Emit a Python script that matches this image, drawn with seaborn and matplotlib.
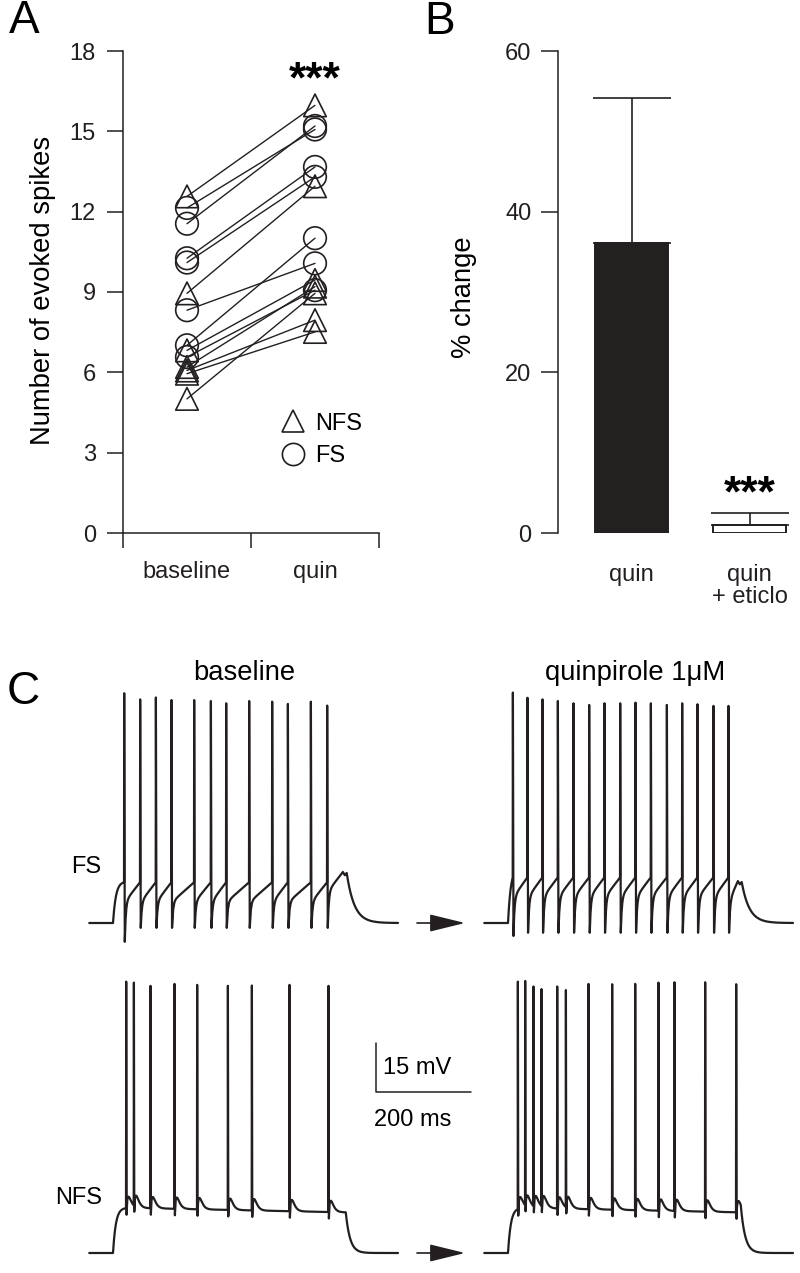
import numpy as np
import pandas as pd
import matplotlib
matplotlib.use('Agg')
import matplotlib.pyplot as plt
from matplotlib.lines import Line2D
import seaborn as sns

# panel A: evoked spikes per cell (first 7 NFS, last 7 FS)
cell_type = ['NFS'] * 7 + ['FS'] * 7
spikes_baseline = [12.57, 8.95, 6.82, 6.2, 6.07, 5.95, 5.01,
                   12.14, 11.55, 10.26, 10.1, 8.32, 7.01, 6.57]
spikes_quin = [15.97, 12.95, 9.45, 9.2, 7.95, 7.51, 8.95,
               15.07, 15.2, 13.67, 13.3, 10.07, 11.01, 9.07]
conditions = ['baseline', 'quin']

# panel B: % change in evoked spikes
bar_labels = ['quin', 'quin\n+ eticlo']
pct_change = [36.1, 1.0]
pct_sem = [18.1, 1.5]

# panel C: spike times (ms after step onset) and peaks (mV above rest)
fs_base_t = [23.2, 56.8, 89.9, 122.7, 170.5, 205.7, 237.9, 286.3, 334.7, 367.8, 416.2, 450.5]
fs_base_pk = [70.7, 68.8, 69.4, 68.6, 68.6, 68.3, 67.6, 68.3, 68.1, 67.4, 68.1, 66.9]
fs_quin_t = [9.9, 40.6, 72.2, 104.6, 137.5, 170.5, 202.7, 235.8, 268.0, 300.4,
             334.1, 366.3, 398.5, 432.2, 463.8]
fs_quin_pk = [70.9, 69.3, 68.8, 68.3, 67.6, 67.1, 67.6, 67.6, 67.8, 67.6,
              67.1, 67.6, 67.3, 66.8, 66.8]
nfs_base_t = [27.4, 43.6, 78.5, 129.1, 176.8, 241.5, 292.0, 371.2, 453.3]
nfs_base_pk = [83.5, 83.2, 82.2, 82.8, 82.5, 82.2, 82.3, 82.5, 82.2]
nfs_quin_t = [20.4, 35.8, 53.3, 70.1, 103.2, 121.5, 169.1, 218.9, 267.4, 316.4,
              350.1, 414.7, 480.0]
nfs_quin_pk = [83.5, 83.7, 82.0, 81.2, 82.0, 80.9, 82.8, 82.7, 82.8, 83.2,
               83.3, 83.3, 82.7]
# FS: threshold, AHP trough, first trough, end-of-step hump (mV above rest)
fs_threshold = [12.5, 14.0]
fs_trough = [-1.5, -3.0]
fs_first_trough = [-5.8, -4.0]
fs_hump = [15.7, 12.9]
nfs_plateau = [(14.0, 12.5), (14.0, 12.5)]
step_ms = 490

INK = '#231f20'
W, H = 800, 1273


def fs_trace(spk_t, spk_v, thr, ahp, ahp0, hump):
    t, v = [-50.0, 0.0], [0.0, 0.0]
    tt = np.linspace(0, spk_t[0], 12)[1:]
    t += list(tt)
    v += list(thr * (1 - np.exp(-tt / 6)) / (1 - np.exp(-spk_t[0] / 6)))
    for i, (s, pk) in enumerate(zip(spk_t, spk_v)):
        tr = ahp0 if i == 0 else ahp
        t += [s + 0.4, s + 1.6]
        v += [pk, tr]
        t0 = s + 1.6
        if i + 1 < len(spk_t):
            t1, target = spk_t[i + 1], thr
        else:
            t1, target = step_ms - 6, hump
        mid = target - 6.0
        dt = np.linspace(0, t1 - t0, 20)[1:]
        t += list(t0 + dt)
        v += list(tr + (mid - tr) * (1 - np.exp(-dt / 2.2))
                  + (target - mid) * dt / (t1 - t0))
    t += [step_ms - 2, step_ms + 2]
    v += [hump - 1.0, hump - 0.3]
    tt = np.linspace(step_ms + 2, 600, 40)[1:]
    t += list(tt)
    v += list((hump - 0.3) * np.exp(-(tt - step_ms - 2) / 16))
    return np.array(t), np.array(v)


def nfs_trace(spk_t, spk_v, plat, adp=3.5):
    spk_t = np.array(spk_t)

    def base(x):
        x = np.atleast_1d(np.asarray(x, float))
        lvl = plat[0] + (plat[1] - plat[0]) * x / step_ms
        out = lvl * (1 - np.exp(-x / 6))
        for s in spk_t:
            d = x - s - 1.2
            out = out + np.where(d > 0, adp * (d / 4) * np.exp(1 - np.clip(d, 0, None) / 4), 0)
        return out

    grid = np.arange(0, step_ms + 0.5, 1.0)
    keep = np.ones_like(grid, bool)
    for s in spk_t:
        keep &= ~((grid > s - 0.5) & (grid < s + 2.0))
    pts = list(zip(grid[keep], base(grid[keep])))
    for s, pk in zip(spk_t, spk_v):
        b = base(s - 0.01)[0]
        pts += [(s, b), (s + 0.4, pk), (s + 1.2, b - 2.0)]
    pts.sort()
    t = [-50.0, 0.0] + [p[0] for p in pts]
    v = [0.0, 0.0] + [p[1] for p in pts]
    vend = v[-1]
    tt = np.linspace(step_ms, 600, 60)[1:]
    t += list(tt)
    v += list(vend * np.exp(-(tt - step_ms) / 9))
    return np.array(t), np.array(v)


sns.set_theme(style='ticks')
plt.rcParams['font.family'] = ['Liberation Sans', 'DejaVu Sans']
plt.rcParams.update({'axes.edgecolor': INK, 'xtick.color': INK, 'ytick.color': INK,
                     'text.color': 'black', 'axes.linewidth': 1.1})

fig = plt.figure(figsize=(8, 12.73), dpi=100)


def fpos(x0, y0, x1, y1):
    return [x0 / W, 1 - y1 / H, (x1 - x0) / W, (y1 - y0) / H]


# ---------------- A
axA = fig.add_axes(fpos(123, 51, 379, 533))
n = len(cell_type)
df = pd.DataFrame({
    'cell': list(range(n)) * 2,
    'type': cell_type * 2,
    'condition': [conditions[0]] * n + [conditions[1]] * n,
    'spikes': spikes_baseline + spikes_quin,
})
df['xpos'] = df['condition'].map({conditions[0]: 0.5, conditions[1]: 1.5})
sns.lineplot(data=df, x='xpos', y='spikes', units='cell', estimator=None,
             color=INK, lw=1.0, ax=axA, legend=False)
sns.scatterplot(data=df, x='xpos', y='spikes', style='type',
                markers={'NFS': '^', 'FS': 'o'}, s=265, facecolor='none',
                edgecolor=INK, linewidth=1.2, ax=axA, legend=False, zorder=3)
axA.set_xlim(0, 2)
axA.set_ylim(0, 18)
axA.set_yticks(range(0, 19, 3))
axA.set_xticks([0, 1, 2])
axA.set_xticklabels([])
axA.set_xticks([0.5, 1.5], minor=True)
axA.set_xticklabels(conditions, minor=True)
axA.tick_params(axis='y', length=11.5, width=1.1, pad=8, labelsize=17)
axA.tick_params(axis='x', which='major', length=10.8, width=1.1)
axA.tick_params(axis='x', which='minor', length=0, pad=20, labelsize=17)
axA.set_xlabel('')
axA.set_ylabel('')
sns.despine(ax=axA)
axA.text(1.5, 16.45, '***', ha='center', va='baseline', fontsize=32, fontweight='bold')
handles = [Line2D([], [], marker=m, ls='none', mfc='none', mec=INK, mew=1.2, ms=16)
           for m in ['^', 'o']]
axA.legend(handles, ['NFS', 'FS'], loc='upper left', bbox_to_anchor=(0.617, 0.25),
           frameon=False, fontsize=17, handlelength=1.0, handletextpad=0.44,
           labelspacing=0.45, borderpad=0, borderaxespad=0)

# ---------------- B
axB = fig.add_axes(fpos(558, 51, 800, 533))
sns.barplot(x=bar_labels, y=pct_change, hue=bar_labels, palette=[INK, 'white'],
            edgecolor=INK, linewidth=1.4, width=0.62, legend=False, ax=axB)
axB.errorbar([0, 1], pct_change, yerr=[[0, 0], pct_sem], fmt='none', ecolor=INK,
             elinewidth=1.2, capsize=28, capthick=1.2)
axB.set_xlim(-0.625, 1.427)
axB.set_ylim(0, 60)
axB.set_yticks([0, 20, 40, 60])
axB.tick_params(axis='y', length=12.2, width=1.1, pad=7, labelsize=17)
axB.tick_params(axis='x', length=0, pad=22, labelsize=17)
for lab in axB.get_xticklabels():
    lab.set_linespacing(1.05)
sns.despine(ax=axB, bottom=True)
axB.text(1, 3.3, '***', ha='center', va='baseline', fontsize=32, fontweight='bold')

# axis labels and panel letters
fig.text(43 / W, 1 - 290 / H, 'Number of evoked spikes', rotation=90,
         ha='center', va='center', fontsize=19.7)
fig.text(464 / W, 1 - 297 / H, '% change', rotation=90, ha='center', va='center',
         fontsize=19.7)
for letter, (x, y) in zip('ABC', [(24, 21), (440, 22), (23, 692)]):
    fig.text(x / W, 1 - y / H, letter, ha='center', va='center', fontsize=33)

# ---------------- C
SX, SY = 0.475, 3.25  # px per ms, px per mV
C_TOP = 640
axC = fig.add_axes(fpos(0, C_TOP, W, H))
axC.set_xlim(0, W / SX)
axC.set_ylim(0, (H - C_TOP) / SY)
axC.axis('off')

col_onset = [113 / SX, 508 / SX]
row_rest = [(H - 923) / SY, (H - 1253) / SY]

traces = [
    (0, 0, fs_trace(fs_base_t, fs_base_pk, fs_threshold[0], fs_trough[0],
                    fs_first_trough[0], fs_hump[0])),
    (1, 0, fs_trace(fs_quin_t, fs_quin_pk, fs_threshold[1], fs_trough[1],
                    fs_first_trough[1], fs_hump[1])),
    (0, 1, nfs_trace(nfs_base_t, nfs_base_pk, nfs_plateau[0])),
    (1, 1, nfs_trace(nfs_quin_t, nfs_quin_pk, nfs_plateau[1])),
]
for col, row, (t, v) in traces:
    sns.lineplot(x=col_onset[col] + t, y=row_rest[row] + v, sort=False,
                 estimator=None, color=INK, lw=1.6, ax=axC)

for row in range(2):
    axC.annotate('', xy=(465 / SX, row_rest[row]), xytext=(417 / SX, row_rest[row]),
                 arrowprops=dict(arrowstyle='-|>,head_length=1.1,head_width=0.27',
                                 color=INK, lw=1.2, mutation_scale=20,
                                 shrinkA=0, shrinkB=0))

# scale bar
x0, y0 = 376 / SX, (H - 1092) / SY
axC.plot([x0, x0, x0 + 200], [y0 + 15, y0, y0], color=INK, lw=1.1)
axC.text(383 / SX, (H - 1068) / SY, '15 mV', ha='left', va='center', fontsize=17)
axC.text(374 / SX, (H - 1120) / SY, '200 ms', ha='left', va='center', fontsize=17)

fig.text(244 / W, 1 - 673 / H, 'baseline', ha='center', va='center', fontsize=19.7)
fig.text(635 / W, 1 - 673 / H, 'quinpirole 1\u03bcM', ha='center', va='center',
         fontsize=19.7)
fig.text(86 / W, 1 - 867 / H, 'FS', ha='center', va='center', fontsize=17)
fig.text(79 / W, 1 - 1198 / H, 'NFS', ha='center', va='center', fontsize=17)

fig.savefig('out.png', dpi=100)
